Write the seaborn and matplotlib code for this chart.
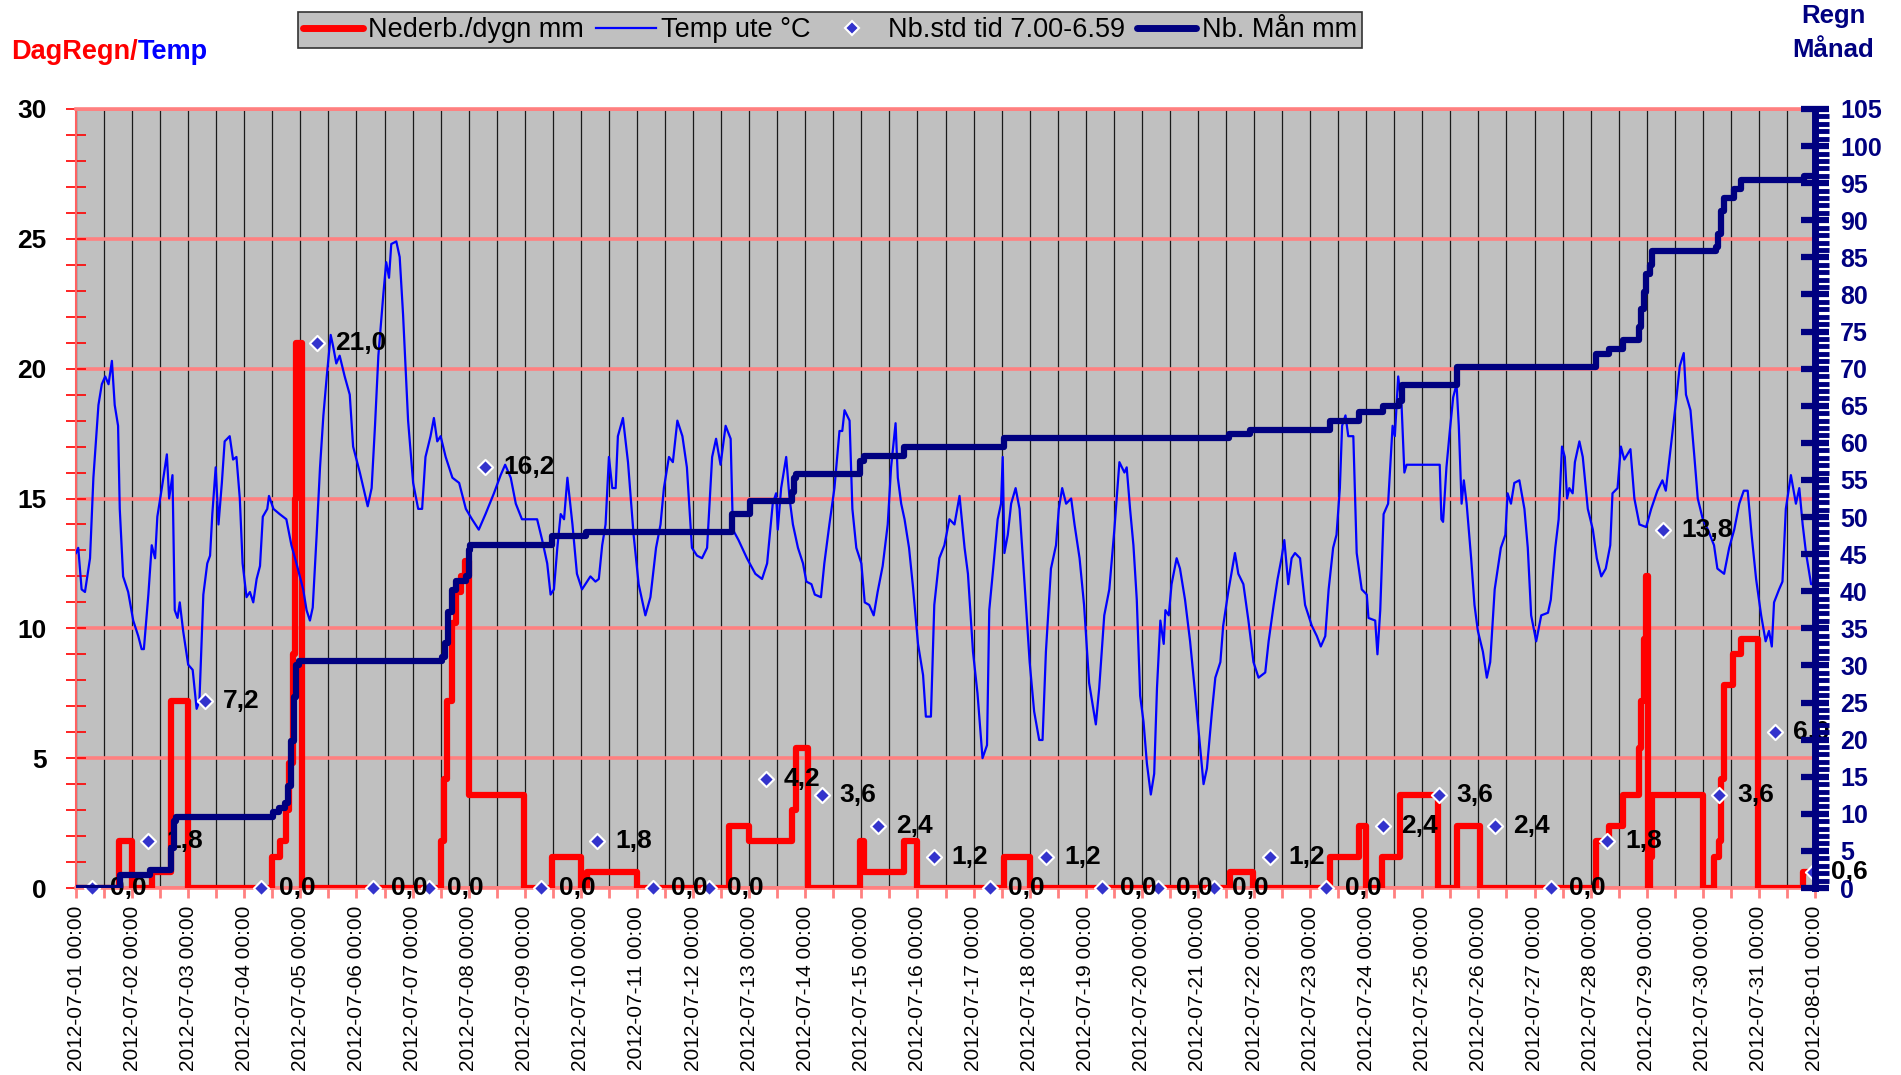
import numpy as np
import pandas as pd
import matplotlib
matplotlib.use('Agg')
import matplotlib.pyplot as plt
import matplotlib.dates as mdates
from matplotlib.lines import Line2D
from matplotlib.ticker import MultipleLocator
import seaborn as sns

plt.rcParams['font.family'] = ['Liberation Sans', 'DejaVu Sans']

# tid anges i dygn från 2012-07-01 00:00
TEMP_T = [0.00, 0.04, 0.10, 0.16, 0.25, 0.31, 0.40, 0.46, 0.52, 0.58, 0.64, 0.69, 0.75, 0.78, 0.84, 0.93,
          1.02, 1.11, 1.17, 1.21, 1.29, 1.35, 1.41, 1.45, 1.53, 1.62, 1.66, 1.72, 1.76, 1.81, 1.85, 1.91,
          2.00, 2.08, 2.15, 2.20, 2.27, 2.34, 2.39, 2.43, 2.49, 2.54, 2.60, 2.65, 2.74, 2.80, 2.86, 2.92, 2.97,
          3.04, 3.10, 3.16, 3.22, 3.28, 3.33, 3.41, 3.44, 3.52, 3.63, 3.75, 3.84, 3.93,
          4.05, 4.11, 4.17, 4.22, 4.29, 4.35, 4.41, 4.47, 4.54, 4.58, 4.64, 4.70, 4.79, 4.88, 4.94,
          5.06, 5.20, 5.27, 5.33, 5.39, 5.48, 5.53, 5.58, 5.62, 5.71, 5.77, 5.83, 5.92,
          6.01, 6.10, 6.17, 6.23, 6.32, 6.38, 6.44, 6.50, 6.59, 6.71, 6.83, 6.95,
          7.06, 7.18, 7.30, 7.45, 7.57, 7.65, 7.75, 7.84, 7.95,
          8.07, 8.22, 8.31, 8.40, 8.46, 8.52, 8.58, 8.64, 8.70, 8.76, 8.85, 8.93,
          9.02, 9.11, 9.17, 9.26, 9.32, 9.38, 9.44, 9.50, 9.56, 9.62, 9.66, 9.75, 9.84, 9.94,
          10.03, 10.15, 10.24, 10.34, 10.42, 10.48, 10.57, 10.64, 10.72, 10.81, 10.89, 10.98,
          11.07, 11.16, 11.25, 11.34, 11.41, 11.49, 11.58, 11.67, 11.71, 11.81, 11.96,
          12.11, 12.23, 12.32, 12.42, 12.48, 12.51, 12.57, 12.66, 12.72, 12.78, 12.87, 12.96,
          13.02, 13.11, 13.17, 13.28, 13.34, 13.43, 13.52, 13.61, 13.66, 13.70, 13.79, 13.84, 13.91,
          14.00, 14.06, 14.14, 14.22, 14.29, 14.38, 14.47, 14.53, 14.61, 14.65, 14.71, 14.77, 14.85, 14.92,
          15.01, 15.10, 15.15, 15.24, 15.30, 15.39, 15.48, 15.57, 15.66, 15.75, 15.84, 15.90, 15.99,
          16.07, 16.16, 16.24, 16.28, 16.35, 16.43, 16.49, 16.52, 16.55, 16.61, 16.67, 16.75, 16.82, 16.91,
          17.00, 17.08, 17.17, 17.23, 17.29, 17.38, 17.47, 17.52, 17.58, 17.65, 17.74, 17.80, 17.89, 17.97,
          18.06, 18.18, 18.24, 18.33, 18.42, 18.51, 18.60, 18.69, 18.73, 18.79, 18.85, 18.91, 18.97,
          19.03, 19.09, 19.16, 19.22, 19.27, 19.33, 19.39, 19.42, 19.48, 19.53, 19.62, 19.68, 19.77, 19.86, 19.95,
          20.04, 20.10, 20.16, 20.25, 20.31, 20.40, 20.45, 20.54, 20.66, 20.72, 20.81, 20.90, 20.99,
          21.08, 21.20, 21.26, 21.35, 21.42, 21.49, 21.54, 21.61, 21.67, 21.73, 21.82, 21.91,
          22.03, 22.12, 22.19, 22.27, 22.33, 22.41, 22.47, 22.53, 22.57, 22.63, 22.68, 22.77, 22.83, 22.92,
          23.01, 23.04, 23.16, 23.20, 23.25, 23.31, 23.39, 23.47, 23.51, 23.57, 23.63, 23.68, 23.72,
          24.31, 24.34, 24.37, 24.43, 24.49, 24.55, 24.61, 24.65, 24.70, 24.74, 24.79, 24.87, 24.93, 24.99,
          25.08, 25.15, 25.21, 25.29, 25.36, 25.40, 25.48, 25.52, 25.58, 25.64, 25.73, 25.82, 25.88, 25.94,
          26.03, 26.12, 26.24, 26.29, 26.37, 26.43, 26.49, 26.54, 26.58, 26.62, 26.68, 26.72, 26.80, 26.86, 26.95,
          27.04, 27.11, 27.19, 27.27, 27.35, 27.39, 27.48, 27.54, 27.60, 27.71, 27.78, 27.87, 27.99,
          28.08, 28.19, 28.28, 28.34, 28.43, 28.52, 28.59, 28.66, 28.70, 28.78, 28.85, 28.91,
          29.00, 29.09, 29.20, 29.26, 29.38, 29.47, 29.56, 29.65, 29.73, 29.80, 29.87, 29.95,
          30.04, 30.12, 30.18, 30.23, 30.27, 30.36, 30.42, 30.48, 30.57, 30.66, 30.72, 30.78, 30.84, 30.93, 30.98]

TEMP_C = [12.9, 13.1, 11.5, 11.4, 12.7, 15.8, 18.6, 19.4, 19.7, 19.4, 20.3, 18.6, 17.8, 14.6, 12.0, 11.4,
          10.3, 9.7, 9.2, 9.2, 11.3, 13.2, 12.7, 14.3, 15.4, 16.7, 15.0, 15.9, 10.7, 10.4, 11.0, 9.9,
          8.6, 8.4, 6.9, 7.2, 11.3, 12.5, 12.8, 14.4, 16.2, 14.0, 15.6, 17.2, 17.4, 16.5, 16.6, 15.0, 12.5,
          11.2, 11.4, 11.0, 11.9, 12.4, 14.3, 14.6, 15.1, 14.6, 14.4, 14.2, 13.2, 12.5,
          11.5, 10.7, 10.3, 10.8, 13.6, 16.2, 18.2, 19.7, 21.3, 20.9, 20.2, 20.5, 19.7, 19.0, 17.0,
          16.0, 14.7, 15.4, 17.8, 20.5, 22.9, 24.1, 23.5, 24.8, 24.9, 24.3, 22.1, 18.0,
          15.6, 14.6, 14.6, 16.6, 17.4, 18.1, 17.2, 17.4, 16.6, 15.8, 15.6, 14.6,
          14.2, 13.8, 14.4, 15.2, 15.9, 16.3, 15.8, 14.8, 14.2,
          14.2, 14.2, 13.4, 12.5, 11.3, 11.5, 13.1, 14.4, 14.2, 15.8, 14.0, 12.1,
          11.5, 11.8, 12.0, 11.8, 11.9, 13.2, 14.0, 16.6, 15.4, 15.4, 17.4, 18.1, 16.4, 13.6,
          11.7, 10.5, 11.2, 13.1, 14.0, 15.4, 16.6, 16.4, 18.0, 17.4, 16.2, 13.1,
          12.8, 12.7, 13.1, 16.6, 17.3, 16.3, 17.8, 17.3, 13.8, 13.4, 12.7,
          12.1, 11.9, 12.5, 14.8, 15.2, 13.8, 15.4, 16.6, 15.0, 14.0, 13.1, 12.5,
          11.8, 11.7, 11.3, 11.2, 12.5, 14.0, 15.4, 17.6, 17.6, 18.4, 18.0, 14.6, 13.1,
          12.5, 11.0, 10.9, 10.5, 11.4, 12.4, 14.0, 16.2, 17.9, 15.8, 14.8, 14.2, 13.1, 11.6,
          9.4, 8.2, 6.6, 6.6, 10.9, 12.7, 13.2, 14.2, 14.0, 15.1, 13.1, 12.1, 9.1,
          7.5, 5.0, 5.5, 10.7, 12.3, 14.2, 14.8, 16.6, 12.9, 13.6, 14.8, 15.4, 14.6, 11.7,
          8.7, 6.8, 5.7, 5.7, 9.1, 12.3, 13.2, 14.6, 15.4, 14.8, 15.0, 14.0, 12.7, 10.9,
          7.9, 6.3, 7.7, 10.5, 11.5, 13.8, 16.4, 16.0, 16.2, 14.6, 13.2, 11.1, 7.4,
          6.4, 4.8, 3.6, 4.4, 7.7, 10.3, 9.4, 10.7, 10.5, 11.7, 12.7, 12.3, 11.1, 9.5, 7.5,
          5.4, 4.0, 4.6, 6.8, 8.1, 8.7, 10.1, 11.4, 12.9, 12.1, 11.7, 10.3, 8.7,
          8.1, 8.3, 9.5, 10.9, 11.9, 12.7, 13.4, 11.7, 12.7, 12.9, 12.7, 10.9,
          10.1, 9.7, 9.3, 9.7, 11.5, 13.1, 13.6, 15.4, 17.8, 18.2, 17.4, 17.4, 12.9, 11.5,
          11.3, 10.4, 10.3, 9.0, 10.7, 14.4, 14.8, 17.8, 17.4, 19.7, 18.6, 16.0, 16.3,
          16.3, 14.2, 14.1, 16.2, 17.6, 18.9, 19.4, 17.8, 14.8, 15.7, 14.8, 12.7, 10.9, 9.9,
          9.1, 8.1, 8.7, 11.5, 12.5, 13.1, 13.6, 15.2, 14.8, 15.6, 15.7, 14.6, 13.1, 10.5,
          9.5, 10.5, 10.6, 11.1, 13.1, 14.2, 17.0, 16.6, 15.0, 15.4, 15.2, 16.4, 17.2, 16.6, 14.6,
          13.8, 12.7, 12.0, 12.3, 13.2, 15.2, 15.4, 17.0, 16.5, 16.9, 15.0, 14.0, 13.9,
          14.6, 15.3, 15.7, 15.3, 17.0, 18.7, 20.1, 20.6, 19.0, 18.4, 16.6, 15.0,
          14.2, 13.8, 13.2, 12.3, 12.1, 13.1, 13.8, 14.8, 15.3, 15.3, 13.6, 11.9,
          10.5, 9.5, 9.9, 9.3, 11.0, 11.5, 11.8, 14.6, 15.9, 14.8, 15.4, 14.0, 12.9, 11.7, 11.7]

# nederbörd per dygn (trappsteg, vänster axel)
RAIN_T = [0.00, 0.77, 1.00, 1.35, 1.70, 2.00, 3.49, 3.63, 3.74, 3.80, 3.86, 3.90, 3.93, 4.02,
          6.50, 6.56, 6.62, 6.70, 6.78, 6.86, 6.93, 7.00, 7.98,
          8.49, 9.01, 9.11, 10.00, 11.64, 12.00, 12.76, 12.84, 13.04,
          13.97, 14.05, 14.76, 15.00, 16.55, 17.00,
          20.57, 20.99, 22.36, 22.88, 23.00, 23.28, 23.60, 24.28, 24.61, 25.02,
          27.10, 27.33, 27.57, 27.86, 27.90, 27.95, 27.98, 28.02, 28.05, 28.09, 29.00,
          29.20, 29.28, 29.33, 29.38, 29.53, 29.68, 29.98, 30.78, 31.00]
RAIN_MM = [0.0, 1.8, 0.0, 0.6, 7.2, 0.0, 1.2, 1.8, 3.0, 4.8, 9.0, 15.0, 21.0, 0.0,
           1.8, 4.2, 7.2, 10.2, 11.4, 12.0, 12.6, 3.6, 0.0,
           1.2, 0.0, 0.6, 0.0, 2.4, 1.8, 3.0, 5.4, 0.0,
           1.8, 0.6, 1.8, 0.0, 1.2, 0.0,
           0.6, 0.0, 1.2, 2.4, 0.0, 1.2, 3.6, 0.0, 2.4, 0.0,
           1.8, 2.4, 3.6, 5.4, 7.2, 9.6, 12.0, 0.0, 1.2, 3.6, 0.0,
           1.2, 1.8, 4.2, 7.8, 9.0, 9.6, 0.0, 0.6, 0.6]

# nederbörd hittills i månaden (höger axel)
MONTH_T = [0.00, 0.78, 1.32, 1.70, 1.74, 1.78, 3.52, 3.62, 3.72, 3.78, 3.84, 3.89, 3.93, 3.97,
           6.52, 6.58, 6.64, 6.70, 6.78, 6.95, 7.00, 7.03,
           8.49, 9.10, 11.70, 12.02, 12.76, 12.80, 12.84,
           13.97, 14.05, 14.76, 16.55,
           20.55, 20.93, 22.36, 22.88, 23.30, 23.58, 23.63, 24.61,
           27.10, 27.33, 27.57, 27.86, 27.90, 27.95, 27.99, 28.05, 28.10,
           29.23, 29.27, 29.33, 29.38, 29.55, 29.68, 30.80, 31.00]
MONTH_MM = [0.0, 1.8, 2.4, 5.4, 9.0, 9.6, 10.2, 10.8, 11.4, 13.8, 19.8, 25.8, 30.0, 30.6,
            31.2, 33.0, 37.2, 40.2, 41.4, 42.0, 45.6, 46.2,
            47.4, 48.0, 50.4, 52.2, 53.4, 55.2, 55.8,
            57.6, 58.2, 59.4, 60.6,
            61.2, 61.8, 63.0, 64.2, 65.0, 65.6, 67.8, 70.2,
            72.0, 72.6, 73.8, 75.6, 78.0, 80.4, 82.8, 84.0, 85.8,
            86.4, 88.2, 91.2, 93.0, 94.2, 95.4, 96.0, 96.0]

# dygnsnederbörd 7.00-6.59
DAY_TIMES = list(pd.date_range('2012-07-01 07:00', periods=31, freq='D')) + [pd.Timestamp('2012-07-31 23:15')]
DAY_MM = [0.0, 1.8, 7.2, 0.0, 21.0, 0.0, 0.0, 16.2, 0.0, 1.8, 0.0, 0.0, 4.2, 3.6, 2.4, 1.2,
          0.0, 1.2, 0.0, 0.0, 0.0, 1.2, 0.0, 2.4, 3.6, 2.4, 0.0, 1.8, 13.8, 3.6, 6.0, 0.6]

START = pd.Timestamp('2012-07-01')
END = pd.Timestamp('2012-08-01')


def to_dates(days):
    return START + pd.to_timedelta(np.asarray(days), unit='D')


RED = '#ff0000'
BLUE = '#0000ff'
NAVY = '#000080'
PINK = '#ff8080'
GRAY = '#c0c0c0'
DIAMOND = '#3333cc'

fig = plt.figure(figsize=(19.01, 10.75), dpi=100)
W, H = 1901, 1075
ax = fig.add_axes([76 / W, (H - 888) / H, (1815 - 76) / W, (888 - 109) / H])
ax.set_facecolor(GRAY)
ax2 = ax.twinx()

# serier
sns.lineplot(x=to_dates(RAIN_T), y=RAIN_MM, ax=ax, color=RED, lw=4.5, drawstyle='steps-post',
             estimator=None, sort=False, solid_capstyle='round', solid_joinstyle='round', zorder=3)
sns.lineplot(x=to_dates(TEMP_T), y=TEMP_C, ax=ax, color=BLUE, lw=1.6,
             estimator=None, sort=False, zorder=4)
sns.scatterplot(x=DAY_TIMES, y=DAY_MM, ax=ax, marker='D', s=60, color=DIAMOND,
                edgecolor='white', linewidth=1.5, zorder=5, clip_on=False)
for t, v in zip(DAY_TIMES, DAY_MM):
    ax.annotate(f'{v:.1f}'.replace('.', ','), xy=(t, v), xytext=(13, 0), textcoords='offset points',
                ha='left', va='center', fontsize=19, fontweight='bold', color='black',
                zorder=6, annotation_clip=False)
sns.lineplot(x=to_dates(MONTH_T), y=MONTH_MM, ax=ax2, color=NAVY, lw=4.5, drawstyle='steps-post',
             estimator=None, sort=False, solid_capstyle='round', solid_joinstyle='round')

# x-axel
ax.set_xlim(START, END)
ax.xaxis.set_major_locator(mdates.DayLocator())
ax.xaxis.set_minor_locator(mdates.HourLocator(byhour=[12]))
ax.xaxis.set_major_formatter(mdates.DateFormatter('%Y-%m-%d %H:%M'))
ax.tick_params(axis='x', which='both', direction='out', length=7, width=2, color=PINK, pad=6)
ax.tick_params(axis='x', which='major', labelsize=15, labelrotation=90)
ax.grid(axis='x', which='both', color='#1a1a1a', lw=0.9)

# vänster axel
ax.set_ylim(0, 30)
ax.set_yticks(range(0, 31, 5))
ax.set_yticklabels([str(v) for v in range(0, 31, 5)], fontsize=19, fontweight='bold')
ax.yaxis.set_minor_locator(MultipleLocator(1))
ax.tick_params(axis='y', which='both', direction='inout', length=14, width=1.2, color=RED, pad=14)
ax.grid(axis='y', which='major', color=PINK, lw=2.6)
ax.set_xlabel('')
ax.set_ylabel('')
for side in ['top', 'bottom']:
    ax.spines[side].set_color(PINK)
    ax.spines[side].set_linewidth(2.6)
ax.spines['left'].set_color('#ff6060')
ax.spines['left'].set_linewidth(1.5)
ax.spines['right'].set_visible(False)

# höger axel
ax2.set_ylim(0, 105)
ax2.set_yticks(range(0, 106, 5))
ax2.set_yticklabels([str(v) for v in range(0, 106, 5)], fontsize=18, fontweight='bold', color=NAVY)
ax2.yaxis.set_minor_locator(MultipleLocator(1))
ax2.tick_params(axis='y', which='major', direction='inout', length=20, width=4.5, color=NAVY, pad=8)
ax2.tick_params(axis='y', which='minor', direction='out', length=10, width=3.5, color=NAVY)
ax2.set_ylabel('')
for side in ['top', 'bottom', 'left']:
    ax2.spines[side].set_visible(False)
ax2.spines['right'].set_color(NAVY)
ax2.spines['right'].set_linewidth(5)

# rubriker
t1 = fig.text(11 / W, 1 - 52 / H, 'DagRegn/', color=RED, fontsize=19.5, fontweight='bold',
              ha='left', va='center')
ax.annotate('Temp', xy=(1, 0.5), xycoords=t1, ha='left', va='center', color=BLUE,
            fontsize=19.5, fontweight='bold', annotation_clip=False)
fig.text(1833 / W, 1 - 33 / H, 'Regn\nMånad', color=NAVY, fontsize=18.5, fontweight='bold',
         ha='center', va='center', linespacing=1.5)

# förklaring
handles = [
    Line2D([], [], color=RED, lw=5, solid_capstyle='round'),
    Line2D([], [], color=BLUE, lw=1.6),
    Line2D([], [], ls='none', marker='D', markersize=7, markerfacecolor=DIAMOND,
           markeredgecolor='white', markeredgewidth=1.5),
    Line2D([], [], color=NAVY, lw=5, solid_capstyle='round'),
]
labels = ['Nederb./dygn mm', 'Temp ute °C', 'Nb.std tid 7.00-6.59', 'Nb. Mån mm']
leg = fig.legend(handles, labels, loc='center', bbox_to_anchor=(830 / W, 1 - 30 / H), ncol=4,
                 frameon=True, fancybox=False, edgecolor='#333333', facecolor=GRAY, framealpha=1,
                 fontsize=19.5, handlelength=2.2, handletextpad=0.2, columnspacing=0.45,
                 borderpad=0.2, borderaxespad=0)
leg.get_frame().set_linewidth(1.2)

fig.savefig('out.png', dpi=100)
